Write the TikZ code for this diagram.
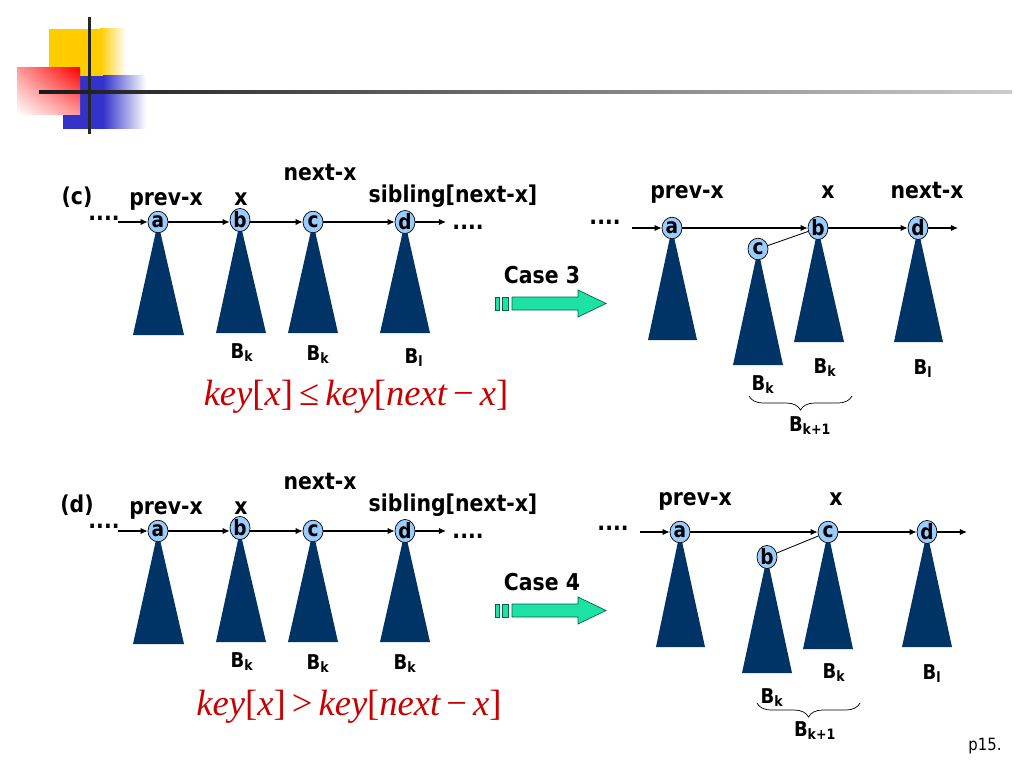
\documentclass[tikz,border=0pt]{standalone}
\usepackage{fontspec}
\setmainfont{DejaVu Sans}[FakeStretch=0.88]
\newfontfamily\keyfont{Liberation Serif}
\usetikzlibrary{arrows.meta,shapes.geometric,decorations.pathreplacing,shadings}
\definecolor{treeblue}{RGB}{0,51,102}
\definecolor{keyblue}{RGB}{153,204,255}
\definecolor{casegreen}{RGB}{30,225,165}
\definecolor{caseedge}{RGB}{0,100,70}
\definecolor{keyred}{RGB}{200,0,0}
\definecolor{logoyellow}{RGB}{255,204,0}
\definecolor{logoblue}{RGB}{51,51,204}
\newcommand{\Bsub}[1]{B\textsubscript{#1}}
\newcommand{\keyexpr}[1]{\itshape key\upshape[\itshape x\upshape]\,#1\,\itshape key\upshape[\itshape next\,\upshape−\,\itshape x\upshape]}
\tikzset{%
  key/.style={ellipse, draw=black, line width=0.5pt, fill=keyblue, inner sep=0pt, minimum width=0.5cm, minimum height=0.54cm, font=\fontsize{15}{15}\selectfont\bfseries},
  tree/.style={fill=treeblue},
  link/.style={line width=0.8pt, -{Latex[length=5pt,width=4.5pt]}},
  lbl/.style={anchor=base, inner sep=0pt, font=\fontsize{16.5}{19}\selectfont\bfseries},
  sublbl/.style={anchor=base, inner sep=0pt, font=\fontsize{14.5}{17}\selectfont\bfseries},
  cond/.style={anchor=base, inner sep=0pt, text=keyred, font=\fontsize{26}{30}\selectfont\keyfont},
  casearrow/.style={fill=casegreen, draw=caseedge, line width=0.5pt},
  span/.style={decorate, decoration={brace, mirror, amplitude=10pt}, line width=0.5pt},
}
\begin{document}
\begin{tikzpicture}[x=0.025cm, y=-0.025cm]%
\useasboundingbox (0,0) rectangle (1024,768);%
% logo
\fill[logoyellow] (49,29) rectangle (100,76);%
\shade[left color=logoyellow, right color=white] (100,29) rectangle (126,76);%
\fill[logoblue] (63,76) rectangle (103,129);%
\shade[left color=logoblue, right color=white] (103,76) rectangle (146,129);%
\shade[upper left=red!40, upper right=red, lower left=white, lower right=red!40] (17,68) rectangle (80,115);%
\fill[black!85] (87.5,17) rectangle (90.5,134);%
\shade[left color=black!90, right color=black!20] (39,90.5) rectangle (1012,93.5);%
% (c) before
\fill[tree] (158,222) -- (133,335) -- (184,335) -- cycle;%
\fill[tree] (240,222) -- (216,333) -- (266,333) -- cycle;%
\fill[tree] (313,222) -- (288,333) -- (338,333) -- cycle;%
\fill[tree] (405,222) -- (380,333) -- (430,333) -- cycle;%
\node[key] (c1a) at (158,222) {a};%
\node[key] (c1b) at (240,220) {b};%
\node[key] (c1c) at (313,222) {c};%
\node[key] (c1d) at (405,222) {d};%
\coordinate (c1in) at (118,222);%
\coordinate (c1out) at (446,222);%
\draw[link] (c1in) -- (c1a);%
\draw[link] (c1a) -- (c1a -| c1b.west);%
\draw[link] (c1b.east |- c1c) -- (c1c);%
\draw[link] (c1c) -- (c1d);%
\draw[link] (c1d) -- (c1out);%
\node[lbl] (c1dotl) at (104,220) {....};%
\node[lbl] (c1dotr) at (468,229) {....};%
\node[lbl] (c1tag) at (77,204) {(c)};%
\node[lbl] (c1prev) at (166,205) {prev-x};%
\node[lbl] (c1x) at (241,205) {x};%
\node[lbl] (c1next) at (320,180) {next-x};%
\node[lbl] (c1sib) at (453,202) {sibling[next-x]};%
\node[sublbl] (c1bk) at (242,358) {\Bsub{k}};%
\node[sublbl] (c1bk2) at (318,360) {\Bsub{k}};%
\node[sublbl] (c1bl) at (414,363) {\Bsub{l}};%
\node[cond] (c1cond) at (356,405) {\keyexpr{≤}};%
% case 3
\node[lbl] (case3) at (542,283) {Case 3};%
\fill[casearrow] (495,297) rectangle (499,310);%
\fill[casearrow] (502,297) rectangle (508,310);%
\fill[casearrow] (512,297) -- (578,297) -- (578,290) -- (606,303.5) -- (578,317) -- (578,310) -- (512,310) -- cycle;%
% (c) after
\fill[tree] (672,228) -- (648,340) -- (697,340) -- cycle;%
\fill[tree] (758,249) -- (733,365) -- (783,365) -- cycle;%
\fill[tree] (818,228) -- (794,342) -- (844,342) -- cycle;%
\fill[tree] (918,228) -- (894,342) -- (943,342) -- cycle;%
\node[key] (c2a) at (672,228) {a};%
\node[key] (c2c) at (758,249) {c};%
\node[key] (c2b) at (818,228) {b};%
\node[key] (c2d) at (918,228) {d};%
\coordinate (c2in) at (632,228);%
\coordinate (c2out) at (958,228);%
\draw[link] (c2in) -- (c2a);%
\draw[link] (c2a) -- (c2b);%
\draw[link] (c2b) -- (c2d);%
\draw[link] (c2d) -- (c2out);%
\draw[line width=0.6pt] (c2c) -- (c2b);%
\node[lbl] (c2dotl) at (605,224) {....};%
\node[lbl] (c2prev) at (687,198) {prev-x};%
\node[lbl] (c2x) at (828,198) {x};%
\node[lbl] (c2next) at (927,198) {next-x};%
\node[sublbl] (c2bk) at (825,373) {\Bsub{k}};%
\node[sublbl] (c2bl) at (923,374) {\Bsub{l}};%
\node[sublbl] (c2bk2) at (763,390) {\Bsub{k}};%
\coordinate (c2bl1) at (749,396);%
\coordinate (c2br1) at (852,396);%
\draw[span] (c2bl1) -- (c2br1);%
\node[sublbl] (c2bk1) at (810,431) {\Bsub{k+1}};%
% (d) before
\fill[tree] (158,531) -- (133,644) -- (184,644) -- cycle;%
\fill[tree] (240,531) -- (216,642) -- (266,642) -- cycle;%
\fill[tree] (313,531) -- (288,642) -- (338,642) -- cycle;%
\fill[tree] (405,531) -- (380,642) -- (430,642) -- cycle;%
\node[key] (d1a) at (158,531) {a};%
\node[key] (d1b) at (240,528) {b};%
\node[key] (d1c) at (313,531) {c};%
\node[key] (d1d) at (405,531) {d};%
\coordinate (d1in) at (118,531);%
\coordinate (d1out) at (446,531);%
\draw[link] (d1in) -- (d1a);%
\draw[link] (d1a) -- (d1a -| d1b.west);%
\draw[link] (d1b.east |- d1c) -- (d1c);%
\draw[link] (d1c) -- (d1d);%
\draw[link] (d1d) -- (d1out);%
\node[lbl] (d1dotl) at (104,528) {....};%
\node[lbl] (d1dotr) at (468,538) {....};%
\node[lbl] (d1tag) at (77,512) {(d)};%
\node[lbl] (d1prev) at (166,514) {prev-x};%
\node[lbl] (d1x) at (241,514) {x};%
\node[lbl] (d1next) at (320,489) {next-x};%
\node[lbl] (d1sib) at (453,511) {sibling[next-x]};%
\node[sublbl] (d1bk) at (242,667) {\Bsub{k}};%
\node[sublbl] (d1bk2) at (318,669) {\Bsub{k}};%
\node[sublbl] (d1bk3) at (405,669) {\Bsub{k}};%
\node[cond] (d1cond) at (349,715) {\keyexpr{>}};%
% case 4
\node[lbl] (case4) at (542,590) {Case 4};%
\fill[casearrow] (495,604) rectangle (499,617);%
\fill[casearrow] (502,604) rectangle (508,617);%
\fill[casearrow] (512,604) -- (578,604) -- (578,597) -- (606,610.5) -- (578,624) -- (578,617) -- (512,617) -- cycle;%
% (d) after
\fill[tree] (680,532) -- (656,647) -- (705,647) -- cycle;%
\fill[tree] (767,557) -- (742,673) -- (792,673) -- cycle;%
\fill[tree] (828,532) -- (803,649) -- (853,649) -- cycle;%
\fill[tree] (927,532) -- (902,647) -- (952,647) -- cycle;%
\node[key] (d2a) at (680,532) {a};%
\node[key] (d2b) at (767,557) {b};%
\node[key] (d2c) at (828,532) {c};%
\node[key] (d2d) at (927,532) {d};%
\coordinate (d2in) at (640,532);%
\coordinate (d2out) at (967,532);%
\draw[link] (d2in) -- (d2a);%
\draw[link] (d2a) -- (d2c);%
\draw[link] (d2c) -- (d2d);%
\draw[link] (d2d) -- (d2out);%
\draw[line width=0.6pt] (d2b) -- (d2c);%
\node[lbl] (d2dotl) at (613,530) {....};%
\node[lbl] (d2prev) at (695,505) {prev-x};%
\node[lbl] (d2x) at (836,505) {x};%
\node[sublbl] (d2bk) at (834,678) {\Bsub{k}};%
\node[sublbl] (d2bl) at (932,679) {\Bsub{l}};%
\node[sublbl] (d2bk2) at (772,703) {\Bsub{k}};%
\coordinate (d2bl1) at (757,703);%
\coordinate (d2br1) at (860,703);%
\draw[span] (d2bl1) -- (d2br1);%
\node[sublbl] (d2bk1) at (815,736) {\Bsub{k+1}};%
\node[anchor=base, inner sep=0pt, font=\fontsize{12}{14}\selectfont\mdseries] (page) at (985,750) {p15.};%
\end{tikzpicture}
\end{document}
